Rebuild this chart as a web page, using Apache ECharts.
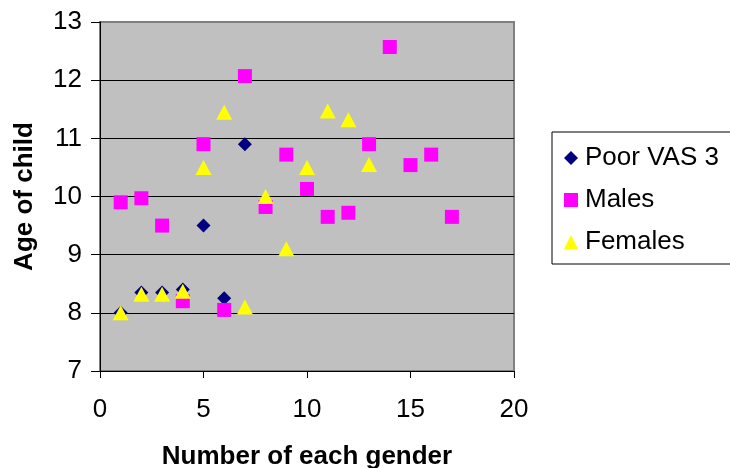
<!DOCTYPE html>
<html><head><meta charset="utf-8">
<script src="https://cdn.jsdelivr.net/npm/echarts@6/dist/echarts.min.js"></script>
<style>html,body{margin:0;padding:0;background:#fff}#c{width:730px;height:468px}</style>
</head><body><div id="c"></div>
<script>
const poorX = [1, 2, 3, 4, 5, 6, 7];
const poorY = [8.0, 8.35, 8.35, 8.4, 9.5, 8.25, 10.9];
const malesX = [1, 2, 3, 4, 5, 6, 7, 8, 9, 10, 11, 12, 13, 14, 15, 16, 17];
const malesY = [9.9, 9.97, 9.5, 8.2, 10.9, 8.05, 12.07, 9.82, 10.72, 10.13, 9.65, 9.72, 10.9, 12.57, 10.54, 10.72, 9.65];
const femalesX = [1, 2, 3, 4, 5, 6, 7, 8, 9, 10, 11, 12, 13];
const femalesY = [8.0, 8.32, 8.32, 8.37, 10.5, 11.45, 8.1, 10.0, 9.1, 10.5, 11.47, 11.32, 10.55];
const seriesNames = ['Poor VAS 3', 'Males', 'Females'];

const pairs = (xs, ys) => xs.map((x, i) => [x, ys[i]]);
const chart = echarts.init(document.getElementById('c'));
const font = 'Liberation Sans, Arial, sans-serif';
const fs = 26;
chart.setOption({
  animation: false,
  backgroundColor: '#fff',
  grid: { left: 100, right: 216, top: 22, bottom: 97, backgroundColor: '#C0C0C0', show: true,
          borderWidth: 2, borderColor: '#808080',
          containLabel: false, outerBoundsMode: 'none' },
  xAxis: {
    type: 'value', min: 0, max: 20, interval: 5,
    name: 'Number of each gender', nameLocation: 'middle', nameGap: 73,
    nameTextStyle: { fontFamily: font, fontSize: fs, fontWeight: 'bold', color: '#000' },
    axisLine: { show: true, lineStyle: { color: '#000', width: 1 } },
    axisTick: { show: true, length: 7, lineStyle: { color: '#000' } },
    axisLabel: { fontFamily: font, fontSize: fs, color: '#000', margin: 26 },
    splitLine: { show: false }
  },
  yAxis: {
    type: 'value', min: 7, max: 13, interval: 1,
    name: 'Age of child', nameLocation: 'middle', nameGap: 62, nameRotate: 90,
    nameTextStyle: { fontFamily: font, fontSize: fs, fontWeight: 'bold', color: '#000' },
    axisLine: { show: true, lineStyle: { color: '#000', width: 1 } },
    axisTick: { show: true, length: 9, lineStyle: { color: '#000' } },
    axisLabel: { fontFamily: font, fontSize: fs, color: '#000', margin: 18 },
    splitLine: { show: true, showMinLine: false, showMaxLine: false, lineStyle: { color: '#000', width: 1 } }
  },
  legend: {
    orient: 'vertical', left: 552, top: 132,
    data: seriesNames,
    borderColor: '#000', borderWidth: 1,
    padding: [13, 40, 9, 12],
    itemGap: 16, itemWidth: 14, itemHeight: 14,
    textStyle: { fontFamily: font, fontSize: fs, color: '#000', padding: [0, 0, 0, 2] }
  },
  series: [
    { name: seriesNames[0], type: 'scatter', symbol: 'diamond', symbolSize: [14, 14],
      itemStyle: { color: '#000080', opacity: 1 }, data: pairs(poorX, poorY) },
    { name: seriesNames[1], type: 'scatter', symbol: 'rect', symbolSize: [14, 14],
      itemStyle: { color: '#FF00FF', opacity: 1 }, data: pairs(malesX, malesY) },
    { name: seriesNames[2], type: 'scatter', symbol: 'triangle', symbolSize: [16, 15],
      itemStyle: { color: '#FFFF00', opacity: 1 }, data: pairs(femalesX, femalesY) }
  ]
});
</script></body></html>
